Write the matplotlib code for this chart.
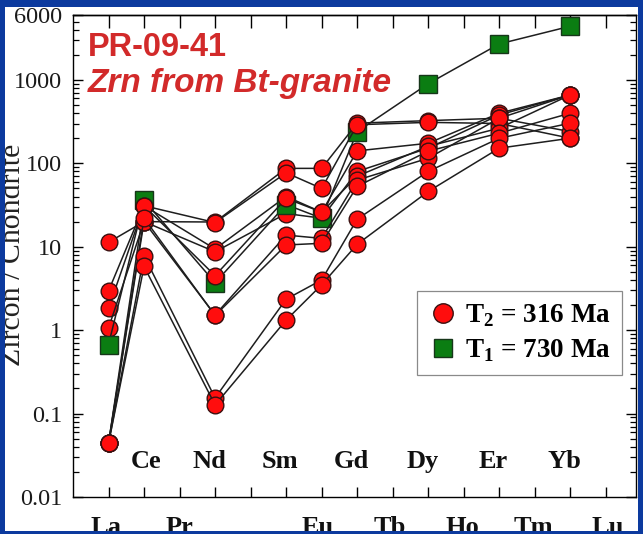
import matplotlib
matplotlib.use("Agg")
import matplotlib.pyplot as plt
from matplotlib.patches import Rectangle
from matplotlib.lines import Line2D
from matplotlib.ticker import LogLocator, NullFormatter, FixedLocator, FixedFormatter
import matplotlib.transforms as mtransforms

# ---- data -------------------------------------------------------------
elements = ["La", "Ce", "Pr", "Nd", "Pm", "Sm", "Eu", "Gd", "Tb",
            "Dy", "Ho", "Er", "Tm", "Yb", "Lu"]
measured = ["La", "Ce", "Nd", "Sm", "Eu", "Gd", "Dy", "Er", "Yb"]

# chondrite-normalised zircon analyses, younger population (T2 = 316 Ma)
t2_spot1 = [11.3, 20.0, 19.8, 87.0, 87.0, 303.0, 325.0, 347.0, 240.0]
t2_spot2 = [2.95, 31.0, 19.5, 77.0, 50.0, 290.0, 310.0, 300.0, 200.0]
t2_spot3 = [1.82, 31.0, 9.4, 40.0, 26.0, 141.0, 174.0, 399.0, 661.0]
t2_spot4 = [1.06, 20.0, 8.7, 25.0, 22.0, 80.0, 152.0, 380.0, 661.0]
t2_spot5 = [0.044, 31.0, 4.5, 38.0, 26.0, 70.0, 160.0, 264.0, 661.0]
t2_spot6 = [0.044, 20.0, 1.52, 13.8, 12.6, 63.0, 115.0, 347.0, 661.0]
t2_spot7 = [0.044, 22.0, 1.50, 10.5, 11.0, 53.0, 140.0, 230.0, 399.0]
t2_spot8 = [0.044, 7.8, 0.154, 2.35, 4.0, 21.4, 80.0, 200.0, 303.0]
t2_spot9 = [0.044, 5.8, 0.127, 1.32, 3.5, 10.7, 46.0, 152.0, 200.0]

# inherited core (T1 = 730 Ma)
t1_spot1 = [0.67, 36.0, 3.7, 32.0, 22.0, 240.0, 900.0, 2700.0, 4400.0]

y_ticks = [0.01, 0.1, 1, 10, 100, 1000, 6000]
y_tick_labels = ["0.01", "0.1", "1", "10", "100", "1000", "6000"]

labels_inside = ["Ce", "Nd", "Sm", "Gd", "Dy", "Er", "Yb"]
labels_below = ["La", "Pr", "Eu", "Tb", "Ho", "Tm", "Lu"]

legend_t2 = r"T$_\mathbf{2}$ = 316 Ma"
legend_t1 = r"T$_\mathbf{1}$ = 730 Ma"
title_1 = "PR-09-41"
title_2 = "Zrn from Bt-granite"
y_label = "Zircon / Chondrite"

# ---- style -------------------------------------------------------------
plt.rcParams["mathtext.fontset"] = "custom"
plt.rcParams["mathtext.bf"] = "Liberation Serif:bold"
plt.rcParams["mathtext.rm"] = "Liberation Serif"

SERIF = "Liberation Serif"
RED = "#ff0d0d"
RED_EDGE = "#3a1010"
GREEN = "#0b7d12"
GREEN_EDGE = "#17361a"
LINE = "#1e1e1e"
TITLE_RED = "#d22a2a"
FRAME_BLUE = "#0c3a9e"

W, H = 643, 534
fig = plt.figure(figsize=(W / 100, H / 100), dpi=100)
ax_l, ax_r, ax_t, ax_b = 73, 636, 15, 497
ax = fig.add_axes([ax_l / W, (H - ax_b) / H, (ax_r - ax_l) / W, (ax_b - ax_t) / H])

xpos = [elements.index(e) for e in measured]

red_series = [t2_spot3, t2_spot4, t2_spot1, t2_spot2, t2_spot5,
              t2_spot6, t2_spot7, t2_spot8, t2_spot9]
z = 3
for s in red_series[:2]:
    ax.plot(xpos, s, color=LINE, lw=1.1, marker="o", ms=12,
            mfc=RED, mec=RED_EDGE, mew=1.0, zorder=z)
    z += 0.1
ax.plot(xpos, t1_spot1, color=LINE, lw=1.1, marker="s", ms=12.5,
        mfc=GREEN, mec=GREEN_EDGE, mew=1.0, zorder=z)
z += 0.1
for s in red_series[2:]:
    ax.plot(xpos, s, color=LINE, lw=1.1, marker="o", ms=12,
            mfc=RED, mec=RED_EDGE, mew=1.0, zorder=z)
    z += 0.1

ax.set_yscale("log")
ax.set_ylim(0.01, 6000)
ax.set_xlim(-1, 14.85)

# y axis ticks
ax.yaxis.set_major_locator(FixedLocator(y_ticks))
ax.yaxis.set_major_formatter(FixedFormatter(y_tick_labels))
ax.yaxis.set_minor_locator(LogLocator(base=10, subs=range(2, 10), numticks=20))
ax.yaxis.set_minor_formatter(NullFormatter())
ax.tick_params(axis="y", which="major", direction="in", length=7, width=1.0,
               left=True, right=True, pad=8, labelsize=17.5, labelcolor="#1a1a1a")
ax.tick_params(axis="y", which="minor", direction="in", length=4, width=0.9,
               left=True, right=True)
for t in ax.get_yticklabels():
    t.set_fontfamily(SERIF)

# x axis ticks (no numeric labels; element names drawn as text)
ax.set_xticks(range(len(elements)))
ax.tick_params(axis="x", which="major", direction="in", length=7, width=1.0,
               bottom=True, top=False, labelbottom=False)
sec = ax.secondary_xaxis("top")
sec.set_xticks(range(len(elements)))
sec.tick_params(direction="in", length=9, width=1.0, labeltop=False)
sec.spines["top"].set_linewidth(1.0)

for sp in ax.spines.values():
    sp.set_linewidth(1.0)
    sp.set_color("black")

# element names
trans = mtransforms.blended_transform_factory(ax.transData, ax.transAxes)
shift = {"Ce": 0.05, "Nd": -0.17, "Sm": -0.17, "Gd": -0.15, "Dy": -0.15,
         "Er": -0.17, "Yb": -0.17, "La": -0.08, "Pr": 0.0, "Eu": -0.1,
         "Tb": -0.08, "Ho": -0.05, "Tm": -0.05, "Lu": 0.05}
for name in labels_inside:
    ax.text(elements.index(name) + shift[name], 0.073, name, transform=trans,
            ha="center", va="center", fontsize=19, fontweight="bold",
            family=SERIF, color="#111111", zorder=10)
for name in labels_below:
    ax.text(elements.index(name) + shift[name], -0.064, name, transform=trans,
            ha="center", va="center", fontsize=19, fontweight="bold",
            family=SERIF, color="#111111", clip_on=False)

# sample title
fig.text(88 / W, 1 - 56 / H, title_1, ha="left", va="baseline",
         fontsize=23.5, fontweight="bold", family="Liberation Sans",
         color=TITLE_RED)
fig.text(88 / W, 1 - 92 / H, title_2, ha="left", va="baseline",
         fontsize=24, fontweight="bold", style="italic",
         family="Liberation Sans", color=TITLE_RED)

# y label
fig.text(13 / W, 1 - 255 / H, y_label, rotation=90, ha="center", va="center",
         fontsize=21.5, family=SERIF, color="#222222")

# legend
handles = [
    Line2D([], [], ls="none", marker="o", ms=14, mfc=RED, mec=RED_EDGE, mew=1.0),
    Line2D([], [], ls="none", marker="s", ms=13, mfc=GREEN, mec=GREEN_EDGE, mew=1.0),
]
leg = ax.legend(handles, [legend_t2, legend_t1], loc="upper left",
                bbox_to_anchor=((417 - ax_l) / (ax_r - ax_l), (ax_b - 291) / (ax_b - ax_t)),
                prop={"family": SERIF, "weight": "bold", "size": 19.5},
                frameon=True, fancybox=False, framealpha=1, edgecolor="#8a8a8a",
                borderpad=0.42, labelspacing=0.3, handletextpad=0.25,
                handlelength=1.1, borderaxespad=0)
leg.get_frame().set_linewidth(0.9)
leg.set_zorder(20)

# page frame
bw = [(0, 0, 5, H), (W - 5, 0, 5, H), (0, H - 7, W, 7), (0, 0, W, 3)]
for x0, y0, w, h in bw:
    fig.add_artist(Rectangle((x0 / W, y0 / H), w / W, h / H,
                             transform=fig.transFigure, color=FRAME_BLUE,
                             lw=0, zorder=100))

fig.savefig("out.png", dpi=100)
